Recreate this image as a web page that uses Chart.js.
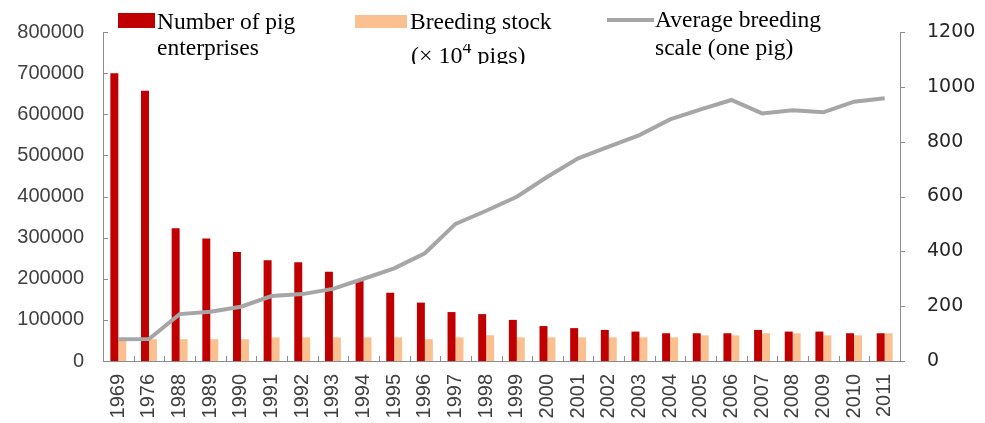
<!DOCTYPE html>
<html lang="en">
<head>
<meta charset="UTF-8">
<title>Pig enterprises and breeding scale</title>
<script src="https://cdn.jsdelivr.net/npm/chart.js"></script>
<style>
body {
  margin: 0;
  padding: 0;
  background: #fff;
}

.wrap {
  position: relative;
  width: 985px;
  height: 423px;
}

.legend-text {
  position: absolute;
  font-family: 'Liberation Serif', 'Times New Roman', serif;
  font-size: 23.5px;
  line-height: 26px;
  color: #000;
  white-space: nowrap;
}

.swatch {
  position: absolute;
}
</style>
</head>
<body>

<div class="wrap">
  <canvas id="pigChart"></canvas>

  <!-- legend, laid over the top of the plot like in the original -->
  <div class="swatch" style="left:118px; top:13px; width:37px; height:15px; background:#c00000;"></div>
  <div class="legend-text" style="left:157px; top:8px;">Number of pig</div>
  <div class="legend-text" style="left:157px; top:34px;">enterprises</div>

  <div class="swatch" style="left:355px; top:15px; width:52px; height:13px; background:#fac090;"></div>
  <div class="legend-text" style="left:410px; top:8px;">Breeding stock</div>
  <div class="legend-text" style="left:411px; top:44px; height:20px; line-height:22px; overflow:hidden; font-size:24px;">(× 10<span style="font-size:18px; line-height:0; vertical-align:10px;">4</span> pigs)</div>

  <div class="swatch" style="left:607px; top:18px; width:47px; height:4px; background:#a6a6a6;"></div>
  <div class="legend-text" style="left:655px; top:6px;">Average breeding</div>
  <div class="legend-text" style="left:655px; top:34px;">scale (one pig)</div>
</div>

<script>
// categories
const years = ['1969', '1976', '1988', '1989', '1990', '1991', '1992', '1993', '1994', '1995',
  '1996', '1997', '1998', '1999', '2000', '2001', '2002', '2003', '2004', '2005',
  '2006', '2007', '2008', '2009', '2010', '2011'];

// number of pig enterprises (left axis)
const enterprises = [700000, 657000, 323000, 298000, 265000, 245000, 240000, 217000, 195000, 166000,
  142000, 119000, 114000, 100000, 85000, 80000, 75500, 71500, 67500, 67500,
  67500, 75500, 71500, 71500, 67500, 67500];

// breeding stock, x 10^4 pigs (left axis)
const breedingStock = [53000, 53000, 53000, 53000, 53000, 57500, 57500, 57500, 57500, 57500,
  53000, 57500, 62500, 57500, 57500, 57500, 57500, 57500, 57500, 62500,
  62500, 67500, 67500, 62500, 62500, 67500];

// average breeding scale, one pig (right axis)
const avgScale = [79, 80, 171, 180, 198, 237, 244, 263, 300, 338,
  393, 500, 548, 599, 672, 739, 782, 824, 881, 918,
  952, 903, 915, 907, 946, 958];

const leftMax = 800000;
const leftStep = 100000;
const rightMax = 1200;
const rightStep = 200;

const axisColor = '#8c8c8c';

// short tick marks: left and bottom point into the plot, right points out
const tickMarks = {
  id: 'tickMarks',
  afterDraw(chart) {
    const ctx = chart.ctx;
    const area = chart.chartArea;
    const yl = chart.scales.y;
    const yr = chart.scales.y1;
    const n = years.length;
    ctx.save();
    ctx.strokeStyle = axisColor;
    ctx.lineWidth = 1;
    ctx.beginPath();
    yl.ticks.forEach(t => {
      const y = Math.round(yl.getPixelForValue(t.value)) + 0.5;
      ctx.moveTo(area.left, y);
      ctx.lineTo(area.left + 5, y);
    });
    yr.ticks.forEach(t => {
      const y = Math.round(yr.getPixelForValue(t.value)) + 0.5;
      ctx.moveTo(area.right, y);
      ctx.lineTo(area.right + 5, y);
    });
    for (let i = 0; i <= n; i++) {
      const x = Math.round(area.left + i * area.width / n) + 0.5;
      ctx.moveTo(x, area.bottom);
      ctx.lineTo(x, area.bottom - 5);
    }
    ctx.stroke();
    ctx.restore();
  }
};

const ctx = document.getElementById('pigChart').getContext('2d');
new Chart(ctx, {
  type: 'bar',
  data: {
    labels: years,
    datasets: [
      {
        type: 'line',
        label: 'Average breeding scale (one pig)',
        data: avgScale,
        yAxisID: 'y1',
        borderColor: '#a6a6a6',
        borderWidth: 4,
        pointRadius: 0,
        tension: 0,
        fill: false,
        order: 0
      },
      {
        label: 'Number of pig enterprises',
        data: enterprises,
        yAxisID: 'y',
        backgroundColor: '#c00000',
        barPercentage: 1.0,
        categoryPercentage: 0.52,
        order: 1
      },
      {
        label: 'Breeding stock (x 10^4 pigs)',
        data: breedingStock,
        yAxisID: 'y',
        backgroundColor: '#fac090',
        barPercentage: 1.0,
        categoryPercentage: 0.52,
        order: 1
      }
    ]
  },
  options: {
    responsive: true,
    maintainAspectRatio: false,
    animation: false,
    layout: {
      padding: { top: 32, left: 0, right: 0, bottom: 0 }
    },
    plugins: {
      legend: { display: false },
      tooltip: { enabled: false }
    },
    scales: {
      x: {
        grid: { display: false, drawTicks: false },
        border: { display: true, color: axisColor, width: 1 },
        ticks: {
          autoSkip: false,
          minRotation: 90,
          maxRotation: 90,
          padding: 13,
          color: '#404040',
          font: { family: "'Liberation Sans', Arial, sans-serif", size: 20 }
        },
        afterFit(scale) { scale.height = 62; }
      },
      y: {
        position: 'left',
        min: 0,
        max: leftMax,
        grid: { display: false, drawTicks: false },
        border: { display: true, color: axisColor, width: 1 },
        ticks: {
          stepSize: leftStep,
          padding: 19,
          color: '#404040',
          font: { family: "'Liberation Sans', Arial, sans-serif", size: 20 },
          callback: v => String(v)
        },
        afterFit(scale) {
          scale.width = 103;
          scale.paddingTop = 12;
          scale.paddingBottom = 12;
        }
      },
      y1: {
        position: 'right',
        min: 0,
        max: rightMax,
        grid: { display: false, drawTicks: false },
        border: { display: true, color: axisColor, width: 1 },
        ticks: {
          stepSize: rightStep,
          padding: 27,
          color: '#262626',
          font: { family: "'DejaVu Sans', sans-serif", size: 19 },
          callback: v => String(v)
        },
        afterFit(scale) {
          scale.width = 85;
          scale.paddingTop = 12;
          scale.paddingBottom = 12;
        }
      }
    }
  },
  plugins: [tickMarks]
});
</script>

</body>
</html>
